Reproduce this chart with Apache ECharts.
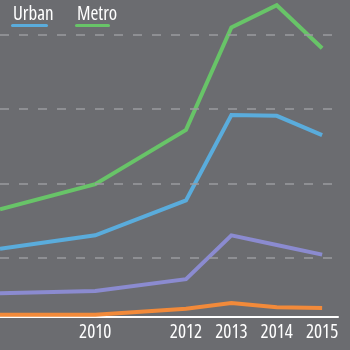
<!DOCTYPE html>
<html>
<head>
<meta charset="utf-8">
<script src="https://cdn.jsdelivr.net/npm/echarts@6/dist/echarts.min.js"></script>
<style>
html, body { margin: 0; padding: 0; background: #6b6c70; }
#container { width: 350px; height: 350px; }
</style>
</head>
<body>
<div id="container"></div>
<script>
// x positions of the vertices (first one is where the lines leave the left edge)
var years = [2007.9, 2010, 2012, 2013, 2014, 2015];
var yearLabels = [2010, 2012, 2013, 2014, 2015];

var metro = [145, 179, 252, 390, 420, 362];
var urban = [92, 110, 157, 272, 271, 245];
var purple = [32, 35, 51, 110, 97, 84];
var orange = [3, 3, 11, 19, 13, 12];

var gridValues = [80, 180, 280, 380];

var labelFont = "'Open Sans', sans-serif";

function pairs(vals) {
    var out = [];
    for (var i = 0; i < years.length; i++) {
        out.push([years[i], vals[i]]);
    }
    return out;
}

function lineSeries(name, vals, color) {
    return {
        name: name,
        type: 'line',
        data: pairs(vals),
        symbol: 'none',
        z: 3,
        lineStyle: { color: color, width: 4, join: 'miter' },
        itemStyle: { color: color }
    };
}

var dom = document.getElementById("container");
var myChart = echarts.init(dom);

option = {
    backgroundColor: '#6b6c70',
    animation: false,
    grid: { left: 0, right: 12, top: 0, bottom: 33 },
    xAxis: {
        type: 'value',
        min: 2007.9,
        max: 2015.35,
        splitLine: { show: false },
        axisTick: { show: false },
        axisLine: { show: true, lineStyle: { color: '#ffffff', width: 2 } },
        axisLabel: {
            customValues: yearLabels,
            color: '#ffffff',
            fontStyle: 'condensed',
            fontWeight: 500,
            fontFamily: labelFont,
            fontSize: 19,
            margin: 6,
            formatter: function (v) { return String(v); }
        }
    },
    yAxis: {
        type: 'value',
        min: 0,
        max: 427,
        show: false,
        splitLine: { show: false }
    },
    graphic: [
        { type: 'text', left: 13, top: 5, style: { text: 'Urban', fill: '#ffffff', font: 'condensed 500 19px ' + labelFont } },
        { type: 'rect', shape: { x: 11, y: 24, width: 37, height: 3, r: 1.5 }, style: { fill: '#5aacdc' } },
        { type: 'text', left: 77, top: 5, style: { text: 'Metro', fill: '#ffffff', font: 'condensed 500 19px ' + labelFont } },
        { type: 'rect', shape: { x: 75, y: 24, width: 35, height: 3, r: 1.5 }, style: { fill: '#68c468' } }
    ],
    series: [
        {
            type: 'line',
            data: [],
            z: 1,
            markLine: {
                silent: true,
                symbol: 'none',
                label: { show: false },
                lineStyle: { color: '#9a9b9f', type: [9, 10], width: 1.5 },
                data: gridValues.map(function (v) { return { yAxis: v }; })
            }
        },
        lineSeries('Orange', orange, '#f28a3a'),
        lineSeries('Purple', purple, '#8b8bd0'),
        lineSeries('Urban', urban, '#5aacdc'),
        lineSeries('Metro', metro, '#68c468')
    ]
};

if (option && typeof option === "object") {
    myChart.setOption(option, true);
}
</script>
</body>
</html>
